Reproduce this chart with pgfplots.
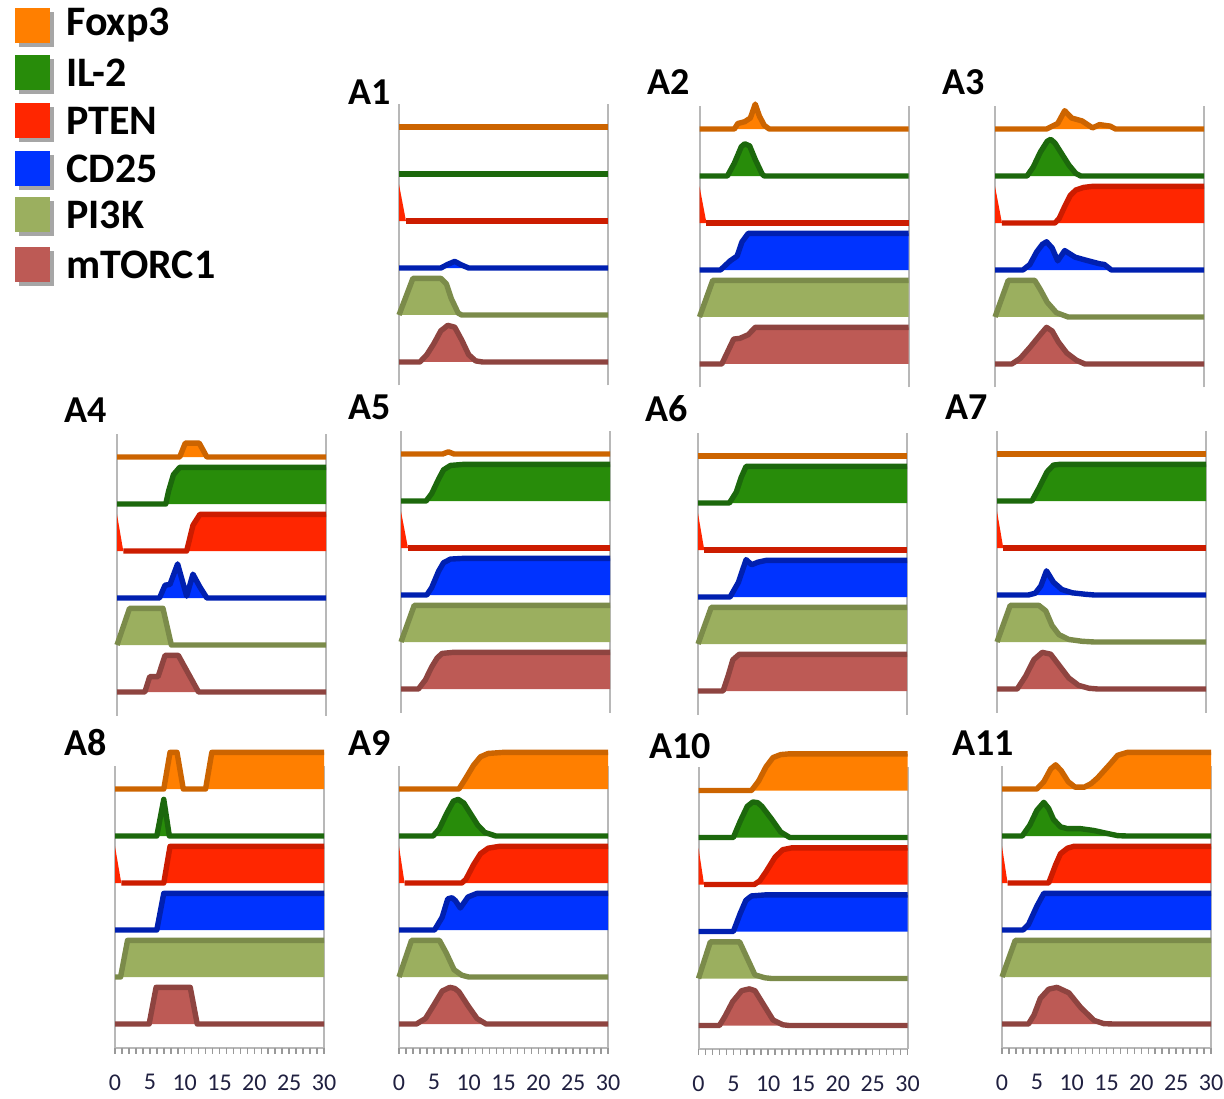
\documentclass[border=0pt]{standalone}
\usepackage{fontspec}
\setmainfont{Carlito}
\usepackage{pgfplots}
\pgfplotsset{compat=1.18}

\definecolor{foxF}{HTML}{FF7F00}\definecolor{foxD}{HTML}{CC6400}
\definecolor{ilF}{HTML}{288C0A}\definecolor{ilD}{HTML}{1C680C}
\definecolor{ptF}{HTML}{FF2600}\definecolor{ptD}{HTML}{CC1C00}
\definecolor{cdF}{HTML}{0033FF}\definecolor{cdD}{HTML}{0020B0}
\definecolor{piF}{HTML}{9BAF5F}\definecolor{piD}{HTML}{7B8B4A}
\definecolor{mtF}{HTML}{BD5A55}\definecolor{mtD}{HTML}{8E4440}
\definecolor{gridc}{HTML}{B8B8B8}
\definecolor{tickc}{HTML}{202040}

% #1 track index (0 bottom ... 5 top), #2 series colour prefix, #3 coordinates (x, value 0..1)
\newcommand{\trk}[3]{%
  \addplot[draw=none, fill=#2F, y filter/.expression={#1+0.78*y}] coordinates {(0,0) #3 (30,0)};
  \addplot[draw=#2D, line width=2.7pt, line join=round, y filter/.expression={#1+0.78*y}] coordinates {#3};
}
% PTEN: the first fall is filled but not outlined; #3 = filled-only start, #4 = outlined rest
\newcommand{\trkp}[4]{%
  \addplot[draw=none, fill=#2F, y filter/.expression={#1+0.78*y}] coordinates {(0,0) #3 #4 (30,0)};
  \addplot[draw=#2D, line width=2.7pt, line join=round, y filter/.expression={#1+0.78*y}] coordinates {#4};
}
\newcommand{\vl}{\draw[gridc, line width=1pt] (rel axis cs:0,0) -- (rel axis cs:0,1) (rel axis cs:1,0) -- (rel axis cs:1,1);}
\newcommand{\bl}{\draw[gridc, line width=1pt] (rel axis cs:0,0) -- (rel axis cs:1,0);
  \pgfplotsinvokeforeach{0,1,...,30}{\draw[black!40, line width=0.8pt] (axis cs:##1,-0.5) -- ++(0pt,-3pt);}}

\pgfplotsset{
  panel/.style={anchor=south west, scale only axis, width=104.5pt, height=141pt,
    xmin=0, xmax=30, ymin=-0.5, ymax=5.5, clip=false,
    axis line style={draw=none}, ytick=\empty, xtick=\empty},
  bottomrow/.style={xtick={0,5,...,30}, xtick pos=left, major tick length=0pt,
    xticklabel style={font=\fontsize{12}{12}\selectfont, text=tickc, yshift=-10pt},
    /pgf/number format/assume math mode=true}
}

\begin{document}
\begin{tikzpicture}
\path[use as bounding box] (0,0) rectangle (612pt,549pt);

% legend
\foreach \c/\t/\y in {foxF/Foxp3/536.25, ilF/IL-2/512.75, ptF/PTEN/488.5, cdF/CD25/464.75, piF/PI3K/441.75, mtF/mTORC1/416.75}{
  \fill[black, opacity=0.35] (7.5pt+1.8pt,\y pt-8.75pt-1.8pt) rectangle ++(17.5pt,17.5pt);
  \fill[\c] (7.5pt,\y pt-8.75pt) rectangle ++(17.5pt,17.5pt);
  \node[anchor=west, inner sep=0pt, font=\fontsize{21}{21}\bfseries\selectfont] at (33pt,\y pt) {\t};
}

% panel labels
\foreach \l/\x/\y in {A1/174/496.5, A2/323.5/501.5, A3/471/501.5, A4/32/337.5, A5/174/339, A6/322.5/338, A7/472.5/339, A8/32/171.5, A9/174/171.5, A10/324.5/170, A11/476/171.5}{
  \node[anchor=base west, inner sep=0pt, font=\fontsize{19}{19}\bfseries\selectfont] at (\x pt,\y pt) {\l};
}

% A1
\begin{axis}[panel, at={(199.5pt,356.25pt)}]
\vl
\trk{5}{fox}{(0,0)(30,0)}
\trk{4}{il}{(0,0)(30,0)}
\trkp{3}{pt}{(0,1)}{(1,0)(30,0)}
\trk{2}{cd}{(0,0)(6,0)(7,0.1)(8,0.18)(9,0.08)(10,0)(30,0)}
\trk{1}{pi}{(0,0)(2,1)(6,1)(6.8,0.85)(7.5,0.45)(8.5,0.05)(9,0)(30,0)}
\trk{0}{mt}{(0,0)(3,0)(4,0.2)(5,0.5)(6,0.85)(7,1)(8,0.95)(9,0.6)(10,0.2)(11,0.03)(12,0)(30,0)}
\end{axis}

% A2
\begin{axis}[panel, at={(349.75pt,355.25pt)}]
\vl
\trk{5}{fox}{(0,0)(5,0)(5.5,0.15)(6.5,0.2)(7.3,0.3)(8,0.68)(8.6,0.35)(9.3,0.1)(10,0)(30,0)}
\trk{4}{il}{(0,0)(4,0)(5,0.35)(6,0.8)(6.5,0.88)(7.2,0.82)(8,0.45)(9,0.05)(9.3,0)(30,0)}
\trkp{3}{pt}{(0,1)}{(1,0)(30,0)}
\trk{2}{cd}{(0,0)(3,0)(4.4,0.25)(5.4,0.38)(6.1,0.77)(7,1)(30,1)}
\trk{1}{pi}{(0,0)(1.9,1)(30,1)}
\trk{0}{mt}{(0,0)(3.2,0)(4.9,0.68)(5.8,0.7)(7,0.8)(8,1)(30,1)}
\end{axis}

% A3
\begin{axis}[panel, at={(497.5pt,355.25pt)}]
\vl
\trk{5}{fox}{(0,0)(7.4,0)(9,0.15)(10,0.5)(11,0.3)(12.5,0.22)(14,0.03)(15,0.12)(16.5,0.08)(17.3,0)(30,0)}
\trk{4}{il}{(0,0)(4.6,0)(5.5,0.25)(6.5,0.65)(7.5,0.95)(8,1)(8.6,0.9)(9.6,0.6)(10.6,0.3)(11.6,0.07)(12.3,0)(30,0)}
\trkp{3}{pt}{(0,1)}{(1,0)(8.6,0)(9.2,0.12)(10,0.45)(10.8,0.75)(11.6,0.9)(12.7,0.97)(14,1)(30,1)}
\trk{2}{cd}{(0,0)(4,0)(5,0.15)(6,0.5)(6.8,0.7)(7.4,0.77)(8.2,0.6)(9,0.25)(10,0.53)(11.5,0.35)(13,0.27)(15,0.17)(15.7,0.15)(16.7,0)(30,0)}
\trk{1}{pi}{(0,0)(1.9,1)(5.7,1)(6.5,0.75)(7.5,0.4)(8.8,0.12)(10.5,0)(30,0)}
\trk{0}{mt}{(0,0)(2.4,0)(3.6,0.15)(5,0.45)(6.5,0.8)(7.4,1)(8.2,0.9)(9.1,0.6)(10.3,0.3)(11.7,0.1)(12.9,0)(30,0)}
\end{axis}

% A4
\begin{axis}[panel, at={(58.5pt,191.25pt)}]
\vl
\trk{5}{fox}{(0,0)(9,0)(9.8,0.38)(11.8,0.38)(12.9,0)(30,0)}
\trk{4}{il}{(0,0)(7,0)(7.4,0.35)(8.1,0.8)(9,1)(30,1)}
\trkp{3}{pt}{(0,1)}{(0.9,0)(10,0)(10.9,0.7)(11.9,1)(30,1)}
\trk{2}{cd}{(0,0)(6.1,0)(6.9,0.35)(7.6,0.37)(8.7,0.93)(10,0.05)(10.9,0.65)(11.9,0.3)(12.9,0)(30,0)}
\trk{1}{pi}{(0,0)(1.8,1)(6.6,1)(7.8,0)(30,0)}
\trk{0}{mt}{(0,0)(4,0)(4.7,0.42)(5.9,0.42)(6.9,1)(8.8,1)(11.7,0)(30,0)}
\end{axis}

% A5
\begin{axis}[panel, at={(200.5pt,192.75pt)}]
\vl
\trk{5}{fox}{(0,0)(6,0)(6.8,0.06)(7.6,0)(30,0)}
\trk{4}{il}{(0,0)(3.6,0)(4.4,0.2)(5.4,0.6)(6.1,0.85)(7.1,0.97)(9,1)(30,1)}
\trkp{3}{pt}{(0,1)}{(1,0)(30,0)}
\trk{2}{cd}{(0,0)(3.7,0)(4.4,0.2)(5.4,0.65)(6.1,0.88)(7.1,0.98)(9,1)(30,1)}
\trk{1}{pi}{(0,0)(1.9,1)(30,1)}
\trk{0}{mt}{(0,0)(2.5,0)(3.5,0.25)(4.4,0.6)(5.2,0.85)(5.9,0.97)(7.5,1)(30,1)}
\end{axis}

% A6
\begin{axis}[panel, at={(349pt,191.75pt)}]
\vl
\trk{5}{fox}{(0,0)(30,0)}
\trk{4}{il}{(0,0)(4.5,0)(5.5,0.3)(6.2,0.7)(6.9,1)(30,1)}
\trkp{3}{pt}{(0,1)}{(0.9,0)(30,0)}
\trk{2}{cd}{(0,0)(4.6,0)(5.8,0.4)(6.9,1.02)(7.7,0.88)(8.6,0.95)(9.8,1)(30,1)}
\trk{1}{pi}{(0,0)(1.9,1)(30,1)}
\trk{0}{mt}{(0,0)(3.6,0)(4.3,0.4)(5,0.85)(5.9,1)(30,1)}
\end{axis}

% A7
\begin{axis}[panel, at={(498.5pt,192.75pt)}]
\vl
\trk{5}{fox}{(0,0)(30,0)}
\trk{4}{il}{(0,0)(5,0)(6,0.35)(7.2,0.8)(8.1,0.98)(9,1)(30,1)}
\trkp{3}{pt}{(0,1)}{(0.9,0)(30,0)}
\trk{2}{cd}{(0,0)(4.5,0)(5.5,0.05)(6.3,0.25)(7.1,0.66)(8.1,0.35)(9.3,0.15)(10.8,0.06)(12.7,0.02)(14,0)(30,0)}
\trk{1}{pi}{(0,0)(1.9,1)(6,1)(7,0.85)(7.9,0.45)(8.9,0.2)(10.3,0.07)(12.2,0.02)(14,0)(30,0)}
\trk{0}{mt}{(0,0)(2.9,0)(4.1,0.35)(5.3,0.8)(6.5,1)(7.7,0.95)(8.9,0.65)(10.3,0.3)(11.7,0.1)(13.2,0.02)(14.5,0)(30,0)}
\end{axis}

% A8
\begin{axis}[panel, bottomrow, at={(57.5pt,25.25pt)}]
\vl\bl
\trk{5}{fox}{(0,0)(7,0)(7.9,1)(8.9,1)(9.8,0)(13,0)(13.9,1)(30,1)}
\trk{4}{il}{(0,0)(6,0)(7,1)(7.8,0)(30,0)}
\trkp{3}{pt}{(0,1)}{(0.9,0)(7,0)(7.9,1)(30,1)}
\trk{2}{cd}{(0,0)(6,0)(7,1)(30,1)}
\trk{1}{pi}{(0,0)(0.8,0)(1.8,1)(30,1)}
\trk{0}{mt}{(0,0)(4.9,0)(5.9,1)(10.8,1)(11.8,0)(30,0)}
\end{axis}

% A9
\begin{axis}[panel, bottomrow, at={(199.5pt,25.25pt)}]
\vl\bl
\trk{5}{fox}{(0,0)(8.6,0)(9.6,0.3)(10.7,0.65)(11.7,0.88)(12.8,0.97)(15,1)(30,1)}
\trk{4}{il}{(0,0)(4.9,0)(5.8,0.2)(6.8,0.6)(7.8,0.95)(8.5,1)(9.3,0.9)(10.3,0.6)(11.3,0.3)(12.3,0.1)(13.9,0)(30,0)}
\trkp{3}{pt}{(0,1)}{(0.8,0)(9,0)(9.6,0.1)(10.7,0.5)(11.7,0.8)(12.8,0.95)(14.4,1)(30,1)}
\trk{2}{cd}{(0,0)(5.1,0)(6.2,0.35)(7,0.85)(7.6,0.88)(8.1,0.8)(8.8,0.6)(9.9,0.9)(11.2,1)(30,1)}
\trk{1}{pi}{(0,0)(1.8,1)(5.8,1)(6.8,0.65)(7.9,0.2)(9,0.05)(10,0)(30,0)}
\trk{0}{mt}{(0,0)(2.5,0)(3.8,0.15)(5.1,0.55)(6.2,0.9)(7.3,1)(8,0.97)(8.6,0.88)(9.9,0.5)(11.2,0.15)(12.5,0)(30,0)}
\end{axis}

% A10
\begin{axis}[panel, bottomrow, at={(349.25pt,24.5pt)}]
\vl\bl
\trk{5}{fox}{(0,0)(7.6,0)(8.6,0.25)(9.7,0.65)(10.7,0.9)(11.8,0.98)(13,1)(30,1)}
\trk{4}{il}{(0,0)(5,0)(6,0.45)(7,0.85)(7.8,0.97)(8.5,0.95)(9.1,0.85)(10.5,0.5)(11.8,0.15)(13.1,0)(30,0)}
\trkp{3}{pt}{(0,1)}{(0.8,0)(8,0)(8.8,0.1)(9.7,0.35)(11,0.75)(12.1,0.95)(13.4,1)(30,1)}
\trk{2}{cd}{(0,0)(5,0)(6,0.5)(6.8,0.85)(7.6,0.97)(9.7,1)(30,1)}
\trk{1}{pi}{(0,0)(1.7,1)(5.9,1)(7,0.55)(8.1,0.1)(9.5,0.02)(10.5,0)(30,0)}
\trk{0}{mt}{(0,0)(3,0)(3.8,0.25)(4.9,0.65)(6.2,0.95)(7.3,1)(8.1,0.95)(9.4,0.55)(10.7,0.15)(12.1,0.02)(13,0)(30,0)}
\end{axis}

% A11
\begin{axis}[panel, bottomrow, at={(501pt,25.25pt)}]
\vl\bl
\trk{5}{fox}{(0,0)(5,0)(6,0.2)(7,0.55)(7.7,0.66)(8.5,0.5)(9.5,0.2)(10.5,0.05)(11.8,0.05)(12.8,0.15)(13.7,0.3)(15.6,0.7)(16.6,0.92)(18,1)(30,1)}
\trk{4}{il}{(0,0)(2.9,0)(4,0.3)(5,0.7)(6,0.92)(6.7,0.75)(7.4,0.45)(8.4,0.25)(9.4,0.2)(11.3,0.2)(13.2,0.15)(15.1,0.07)(16.6,0.01)(18,0)(30,0)}
\trkp{3}{pt}{(0,1)}{(0.8,0)(6.7,0)(7.7,0.5)(8.4,0.8)(9.4,0.95)(10.3,1)(30,1)}
\trk{2}{cd}{(0,0)(3,0)(3.8,0.15)(5,0.65)(6,1)(30,1)}
\trk{1}{pi}{(0,0)(1.9,1)(30,1)}
\trk{0}{mt}{(0,0)(3.8,0)(4.6,0.25)(5.5,0.7)(6.7,0.95)(7.9,1)(9.6,0.85)(11.3,0.45)(13.2,0.1)(14.6,0.01)(16,0)(30,0)}
\end{axis}
\end{tikzpicture}
\end{document}
